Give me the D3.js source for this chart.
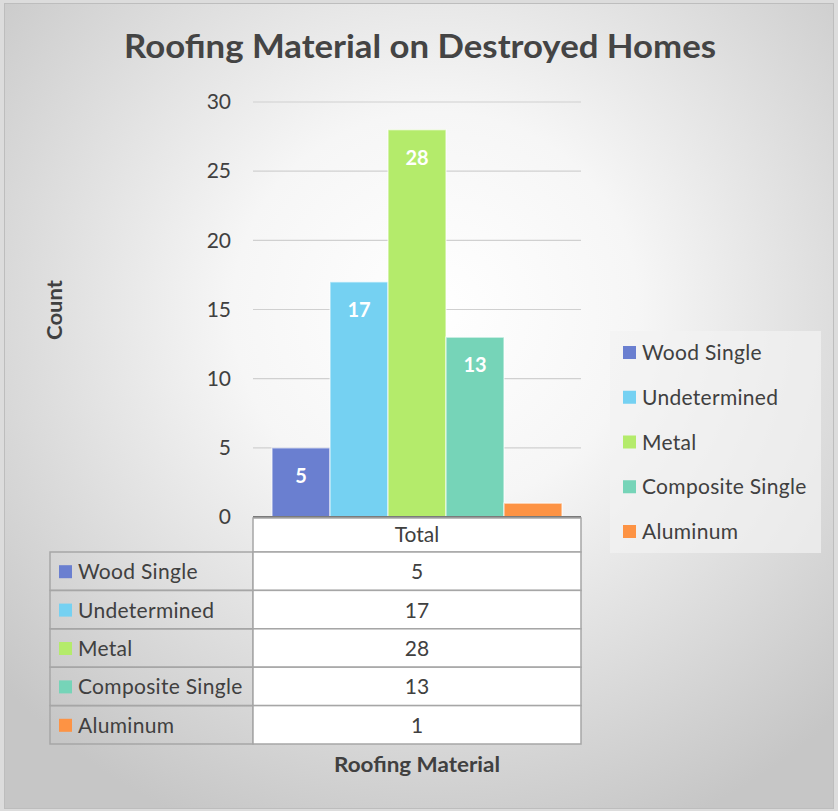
<!DOCTYPE html>
<html>
<head>
<meta charset="utf-8">
<script src="https://cdn.jsdelivr.net/npm/d3@7"></script>
<style>
  body { margin: 0; background: #dcdcdc; }
  svg { display: block; }
</style>
</head>
<body>
<div id="chart"></div>
<script>
const categories = ["Total"];
const series = ["Wood Single", "Undetermined", "Metal", "Composite Single", "Aluminum"];
const values = [5, 17, 28, 13, 1];
const colors = ["#6a7fd0", "#75d1f2", "#b4eb6b", "#76d4b8", "#fd9344"];
const yTicks = [0, 5, 10, 15, 20, 25, 30];

const w = 838, h = 811;
const font = "Lato, 'Open Sans', sans-serif";
const txt = "#404040";

const svg = d3.select("#chart").append("svg")
    .attr("width", w)
    .attr("height", h);

// background gradient
const defs = svg.append("defs");
const grad = defs.append("radialGradient")
    .attr("id", "bg")
    .attr("cx", "52%").attr("cy", "38%").attr("r", "70%");
grad.append("stop").attr("offset", "0%").attr("stop-color", "#ffffff");
grad.append("stop").attr("offset", "35%").attr("stop-color", "#f6f6f6");
grad.append("stop").attr("offset", "100%").attr("stop-color", "#c6c6c6");

svg.append("rect")
    .attr("x", 4.5).attr("y", 3.5)
    .attr("width", 829).attr("height", 805)
    .attr("fill", "url(#bg)")
    .attr("stroke", "#bdbdbd");

// title
svg.append("text")
    .attr("x", 420).attr("y", 58)
    .attr("text-anchor", "middle")
    .attr("font-family", font)
    .attr("font-weight", "bold")
    .attr("font-size", "32px")
    .attr("fill", "#444")
    .attr("textLength", 592)
    .attr("lengthAdjust", "spacingAndGlyphs")
    .text("Roofing Material on Destroyed Homes");

// scales
const x0 = d3.scaleBand()
    .domain(categories)
    .range([253, 581])
    .paddingInner(0)
    .paddingOuter(0.0655);

const x1 = d3.scaleBand()
    .domain(series)
    .range([0, x0.bandwidth()]);

const y = d3.scaleLinear()
    .domain([0, 30])
    .range([517, 102]);

// gridlines
svg.append("g")
    .selectAll("line")
    .data(yTicks.filter(d => d > 0))
    .enter()
    .append("line")
    .attr("x1", 253).attr("x2", 581)
    .attr("y1", d => y(d)).attr("y2", d => y(d))
    .style("stroke", "#d0d0d0")
    .style("stroke-width", 1.2);

// y axis labels
const yAxis = d3.axisLeft(y).tickValues(yTicks).tickSize(0).tickPadding(0);
const ya = svg.append("g")
    .attr("transform", "translate(231,0)")
    .call(yAxis);
ya.select(".domain").remove();
ya.selectAll("text")
    .attr("font-family", font)
    .attr("font-size", "21px")
    .attr("fill", txt);

// bars
const rows = series.map((s, i) => ({name: s, value: values[i], color: colors[i]}));

const barG = svg.append("g")
    .attr("transform", "translate(" + x0("Total") + ",0)");

barG.selectAll("rect")
    .data(rows)
    .enter()
    .append("rect")
    .attr("x", d => x1(d.name))
    .attr("y", d => y(d.value))
    .attr("width", x1.bandwidth())
    .attr("height", d => y(0) - y(d.value))
    .style("fill", d => d.color)
    .style("stroke", "#ffffff")
    .style("stroke-opacity", 0.55)
    .style("stroke-width", 1.5);

barG.selectAll("text")
    .data(rows.filter(d => d.value > 2))
    .enter()
    .append("text")
    .attr("x", d => x1(d.name) + x1.bandwidth() / 2)
    .attr("y", d => y(d.value) + 35)
    .attr("text-anchor", "middle")
    .attr("font-family", font)
    .attr("font-weight", "bold")
    .attr("font-size", "20px")
    .attr("fill", "#ffffff")
    .text(d => d.value);

// axis baseline
svg.append("line")
    .attr("x1", 253).attr("x2", 581)
    .attr("y1", y(0)).attr("y2", y(0))
    .style("stroke", "#7a7a7a")
    .style("stroke-width", 2);

// data table
const rowY = d3.scaleBand()
    .domain(series)
    .range([552, 744]);

const tbl = svg.append("g");

// header cell
tbl.append("rect")
    .attr("x", 253).attr("y", 518)
    .attr("width", 328).attr("height", 34)
    .attr("fill", "#ffffff")
    .attr("stroke", "#a6a6a6")
    .attr("stroke-width", 1.5);
tbl.append("text")
    .attr("x", 417).attr("y", 542)
    .attr("text-anchor", "middle")
    .attr("font-family", font)
    .attr("font-size", "21px")
    .attr("fill", txt)
    .text(categories[0]);

// label cells
tbl.selectAll("rect.lab")
    .data(rows)
    .enter()
    .append("rect")
    .attr("class", "lab")
    .attr("x", 50).attr("y", d => rowY(d.name))
    .attr("width", 203).attr("height", rowY.bandwidth())
    .attr("fill", "none")
    .attr("stroke", "#a6a6a6")
    .attr("stroke-width", 1.5);

tbl.selectAll("rect.val")
    .data(rows)
    .enter()
    .append("rect")
    .attr("class", "val")
    .attr("x", 253).attr("y", d => rowY(d.name))
    .attr("width", 328).attr("height", rowY.bandwidth())
    .attr("fill", "#ffffff")
    .attr("stroke", "#a6a6a6")
    .attr("stroke-width", 1.5);

tbl.selectAll("rect.key")
    .data(rows)
    .enter()
    .append("rect")
    .attr("class", "key")
    .attr("x", 59).attr("y", d => rowY(d.name) + rowY.bandwidth() / 2 - 6)
    .attr("width", 13).attr("height", 13)
    .attr("fill", d => d.color);

tbl.selectAll("text.lab")
    .data(rows)
    .enter()
    .append("text")
    .attr("class", "lab")
    .attr("x", 78).attr("y", d => rowY(d.name) + rowY.bandwidth() / 2 + 8)
    .attr("font-family", font)
    .attr("font-size", "21px")
    .attr("letter-spacing", "0.3px")
    .attr("fill", txt)
    .text(d => d.name);

tbl.selectAll("text.val")
    .data(rows)
    .enter()
    .append("text")
    .attr("class", "val")
    .attr("x", 417).attr("y", d => rowY(d.name) + rowY.bandwidth() / 2 + 8)
    .attr("text-anchor", "middle")
    .attr("font-family", font)
    .attr("font-size", "21px")
    .attr("fill", txt)
    .text(d => d.value);

// axis titles
svg.append("text")
    .attr("x", 417).attr("y", 772)
    .attr("text-anchor", "middle")
    .attr("font-family", font)
    .attr("font-weight", "bold")
    .attr("font-size", "21px")
    .attr("fill", txt)
    .attr("textLength", 166)
    .attr("lengthAdjust", "spacingAndGlyphs")
    .text("Roofing Material");

svg.append("text")
    .attr("transform", "translate(62,310) rotate(-90)")
    .attr("text-anchor", "middle")
    .attr("font-family", font)
    .attr("font-weight", "bold")
    .attr("font-size", "21px")
    .attr("fill", txt)
    .attr("textLength", 60)
    .attr("lengthAdjust", "spacingAndGlyphs")
    .text("Count");

// legend
const legend = svg.append("g");
legend.append("rect")
    .attr("x", 610).attr("y", 331)
    .attr("width", 211).attr("height", 222)
    .attr("fill", "#f2f2f2")
    .attr("fill-opacity", 0.7);

const legY = d3.scalePoint()
    .domain(series)
    .range([352, 531]);

legend.selectAll("rect.key")
    .data(rows)
    .enter()
    .append("rect")
    .attr("class", "key")
    .attr("x", 623).attr("y", d => legY(d.name) - 6)
    .attr("width", 13).attr("height", 13)
    .attr("fill", d => d.color);

legend.selectAll("text")
    .data(rows)
    .enter()
    .append("text")
    .attr("x", 642).attr("y", d => legY(d.name) + 8)
    .attr("font-family", font)
    .attr("font-size", "21px")
    .attr("letter-spacing", "0.3px")
    .attr("fill", txt)
    .text(d => d.name);
</script>
</body>
</html>
